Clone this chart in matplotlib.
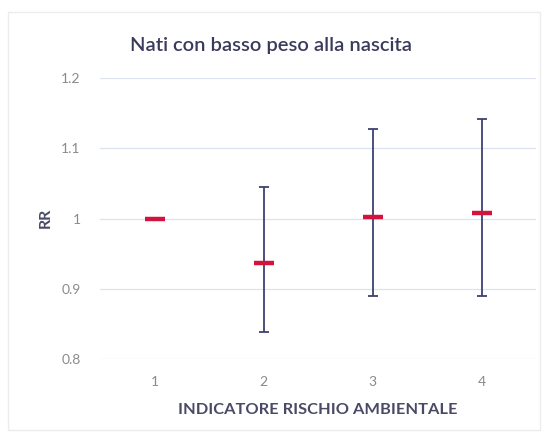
import matplotlib
matplotlib.use("Agg")
import matplotlib.pyplot as plt
from matplotlib.patches import Rectangle

categories = [1, 2, 3, 4]
rr = [1.0, 0.937, 1.002, 1.0075]
upper = [None, 1.045, 1.128, 1.141]
lower = [None, 0.839, 0.889, 0.889]
yticks = [0.8, 0.9, 1.0, 1.1, 1.2]
yticklabels = ["0.8", "0.9", "1", "1.1", "1.2"]

plt.rcParams['font.family'] = ['Lato', 'DejaVu Sans']

fig = plt.figure(figsize=(5.43, 4.38), dpi=100)
fig.patches.append(Rectangle((8/543, 8/438), 532/543, 418/438, transform=fig.transFigure,
                             fill=False, edgecolor='#ececec', lw=1))
ax = fig.add_axes([100/543, (438-359)/438, 436/543, (359-78)/438])

navy = '#3c4270'
for x, v, u, l in zip(categories, rr, upper, lower):
    if u is not None:
        ax.errorbar([x], [v], yerr=[[v - l], [u - v]], fmt='none', ecolor=navy,
                    elinewidth=1.3, capsize=3.3, capthick=1.3, zorder=2)
ax.scatter(categories, rr, marker='_', s=210, linewidths=3.2, color='#d3123e', zorder=3)

ax.set_xlim(0.5, 4.5)
ax.set_ylim(0.8, 1.2)
ax.set_yticks(yticks)
ax.set_yticklabels(yticklabels)
ax.set_xticks(categories)
ax.grid(axis='y', color='#dde3ee', lw=0.9)
ax.set_axisbelow(True)
for s in ax.spines.values():
    s.set_visible(False)
ax.tick_params(length=0, colors='#8a8a8a', labelsize=10, pad=14)
ax.tick_params(axis='x', pad=12)

fig.text(0.5, 1 - 45/438, 'Nati con basso peso alla nascita', ha='center', va='center',
         fontsize=14.5, fontweight='semibold', color='#3a3a5c')
fig.text(46/543, 1 - 218/438, 'RR', rotation=90, ha='center', va='center',
         fontsize=11.5, fontweight='bold', color='#4a4a66')
fig.text(318/543, 1 - 410/438, 'INDICATORE RISCHIO AMBIENTALE', ha='center', va='center',
         fontsize=11.8, fontweight='bold', color='#4a4a66')

fig.savefig('out.png', dpi=100, facecolor='white')
